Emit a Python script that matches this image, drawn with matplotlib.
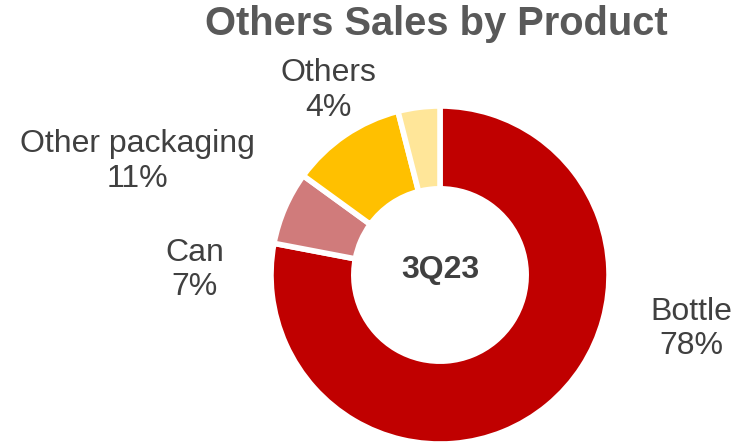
import matplotlib.pyplot as plt

plt.rcParams['font.family'] = ['Liberation Sans', 'DejaVu Sans']

products = ['Bottle', 'Can', 'Other packaging', 'Others']
shares = [78, 7, 11, 4]
colors = ['#C00000', '#D07B7B', '#FFC000', '#FFE699']
# label anchor points (data coords, pie radius = 1)
label_pos = [(1.49, -0.32), (-1.45, 0.03), (-1.79, 0.67), (-0.66, 1.09)]

W, H = 736, 444
cx, cy, r = 440, 275, 169

fig = plt.figure(figsize=(W / 100, H / 100), dpi=100)
ax = fig.add_axes([(cx - r) / W, (H - cy - r) / H, 2 * r / W, 2 * r / H])

ax.pie(shares, colors=colors, startangle=90, counterclock=False, radius=1,
       wedgeprops=dict(width=0.49, edgecolor='white', linewidth=4))
ax.set_xlim(-1, 1)
ax.set_ylim(-1, 1)
ax.set_aspect('equal')
ax.axis('off')

for name, val, (x, y) in zip(products, shares, label_pos):
    ax.text(x, y, f'{name}\n{val}%', ha='center', va='center', fontsize=23,
            color='#404040', linespacing=1.2, clip_on=False)

ax.text(0, 0.03, '3Q23', ha='center', va='center', fontsize=23,
        fontweight='bold', color='#404040')

fig.text(436 / W, 1 - 24 / H, 'Others Sales by Product', ha='center', va='center',
         fontsize=28.7, fontweight='bold', color='#595959')

fig.savefig('out.png', dpi=100)
